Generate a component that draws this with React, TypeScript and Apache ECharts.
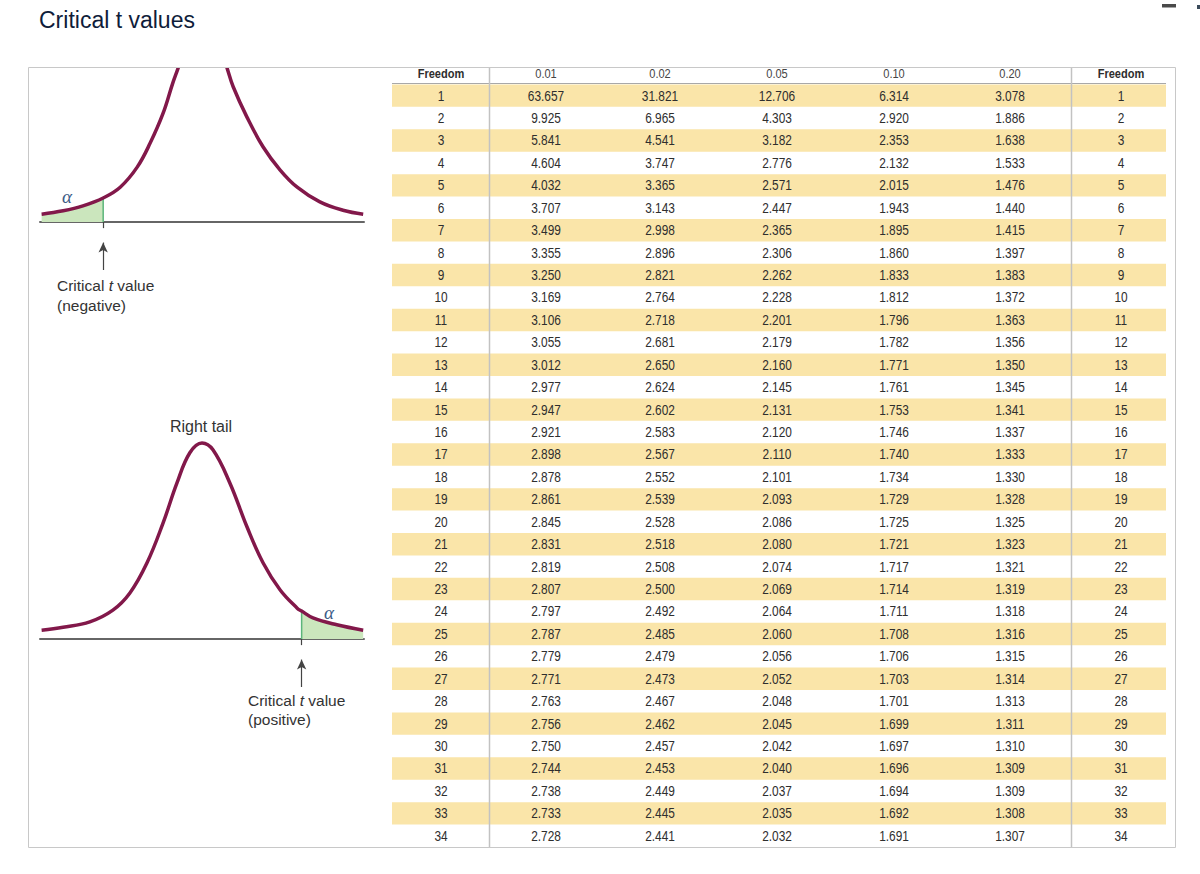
import React, { useEffect, useRef } from 'react';
import * as echarts from 'echarts';

// ---------------- DATA ----------------
const headers = ['Freedom', '0.01', '0.02', '0.05', '0.10', '0.20', 'Freedom'];
const dof = [1, 2, 3, 4, 5, 6, 7, 8, 9, 10, 11, 12, 13, 14, 15, 16, 17, 18, 19, 20, 21, 22, 23, 24, 25, 26, 27, 28, 29, 30, 31, 32, 33, 34];
const t001 = [63.657, 9.925, 5.841, 4.604, 4.032, 3.707, 3.499, 3.355, 3.250, 3.169, 3.106, 3.055, 3.012, 2.977, 2.947, 2.921, 2.898, 2.878, 2.861, 2.845, 2.831, 2.819, 2.807, 2.797, 2.787, 2.779, 2.771, 2.763, 2.756, 2.750, 2.744, 2.738, 2.733, 2.728];
const t002 = [31.821, 6.965, 4.541, 3.747, 3.365, 3.143, 2.998, 2.896, 2.821, 2.764, 2.718, 2.681, 2.650, 2.624, 2.602, 2.583, 2.567, 2.552, 2.539, 2.528, 2.518, 2.508, 2.500, 2.492, 2.485, 2.479, 2.473, 2.467, 2.462, 2.457, 2.453, 2.449, 2.445, 2.441];
const t005 = [12.706, 4.303, 3.182, 2.776, 2.571, 2.447, 2.365, 2.306, 2.262, 2.228, 2.201, 2.179, 2.160, 2.145, 2.131, 2.120, 2.110, 2.101, 2.093, 2.086, 2.080, 2.074, 2.069, 2.064, 2.060, 2.056, 2.052, 2.048, 2.045, 2.042, 2.040, 2.037, 2.035, 2.032];
const t010 = [6.314, 2.920, 2.353, 2.132, 2.015, 1.943, 1.895, 1.860, 1.833, 1.812, 1.796, 1.782, 1.771, 1.761, 1.753, 1.746, 1.740, 1.734, 1.729, 1.725, 1.721, 1.717, 1.714, 1.711, 1.708, 1.706, 1.703, 1.701, 1.699, 1.697, 1.696, 1.694, 1.692, 1.691];
const t020 = [3.078, 1.886, 1.638, 1.533, 1.476, 1.440, 1.415, 1.397, 1.383, 1.372, 1.363, 1.356, 1.350, 1.345, 1.341, 1.337, 1.333, 1.330, 1.328, 1.325, 1.323, 1.321, 1.319, 1.318, 1.316, 1.315, 1.314, 1.313, 1.311, 1.310, 1.309, 1.309, 1.308, 1.307];

// Curves: [t, density]
const leftTailCurve: [number, number][] = [
  [-3.96, 0.016], [-3.43, 0.023], [-2.94, 0.033], [-2.44, 0.049], [-2.02, 0.071], [-1.60, 0.112],
  [-1.28, 0.161], [-0.96, 0.222], [-0.72, 0.284], [-0.59, 0.314], [-0.42, 0.356], [0.0, 0.43],
  [0.45, 0.357], [0.62, 0.314], [0.77, 0.276], [1.11, 0.214], [1.51, 0.153], [1.93, 0.106],
  [2.35, 0.071], [2.91, 0.041], [3.48, 0.024], [3.98, 0.016],
];
const leftCrit = -2.44;
const rightTailCurve: [number, number][] = [
  [-3.96, 0.018], [-3.43, 0.024], [-2.77, 0.035], [-2.20, 0.059], [-1.78, 0.094], [-1.36, 0.155],
  [-0.96, 0.237], [-0.62, 0.318], [-0.30, 0.380], [0.0, 0.40], [0.27, 0.386], [0.69, 0.318],
  [1.11, 0.229], [1.51, 0.155], [1.93, 0.100], [2.35, 0.063], [2.46, 0.057], [2.74, 0.043],
  [3.33, 0.029], [3.98, 0.018],
];
const rightCrit = 2.46;

// ---------------- LAYOUT ----------------
const FONT = '"Liberation Sans", Arial, Helvetica, sans-serif';
const TABLE = { left: 390, top: 62, width: 777, height: 785 };
const COL_X = [51, 156, 270, 387, 504, 620, 731];
const BAND = [2, 776];
const NARROW = 0.82;
const SCALE = 490;
const CURVE_X = { left: 40, width: 324 };
const BASE_TOP = 222;
const BASE_BOT = 639;
const Y_MIN = -0.12;
const TOP_MAX = (BASE_TOP - 69.75) / SCALE;
const BOT_MAX = 0.44;

const MAROON = '#82184a';
const GREEN_FILL = '#cbe6bd';
const GREEN_LINE = '#5bb57a';
const YELLOW = '#fae5a9';
const TXT = '#2e2e2e';

function critValue(curve: [number, number][], crit: number) {
  const p = curve.find((q) => q[0] === crit);
  return p ? p[1] : 0;
}

export default function App() {
  const ref = useRef<HTMLDivElement>(null);

  useEffect(() => {
    if (!ref.current) return;
    const chart = echarts.init(ref.current, undefined, { renderer: 'svg' });

    const rowCats = ['hdr', ...dof.map(String)];
    const tableData = rowCats.map((_, i) => [0, i]);

    const leftShade = leftTailCurve.filter((p) => p[0] <= leftCrit);
    const rightShade = rightTailCurve.filter((p) => p[0] >= rightCrit);

    const critSeries = (crit: number, curve: [number, number][], axis: number) => ({
      type: 'line',
      xAxisIndex: axis,
      yAxisIndex: axis,
      data: [[crit, 0], [crit, critValue(curve, crit)]],
      symbol: 'none',
      lineStyle: { color: GREEN_LINE, width: 1.5 },
      silent: true,
      z: 4,
      markLine: {
        silent: true,
        animation: false,
        label: { show: false },
        emphasis: { disabled: true },
        lineStyle: { color: '#444', width: 1.2, type: 'solid' },
        symbolSize: [7, 10],
        data: [
          [{ coord: [crit, -0.0125], symbol: 'none' }, { coord: [crit, 0], symbol: 'none' }],
          [{ coord: [crit, -0.098], symbol: 'none' }, { coord: [crit, -0.042], symbol: 'arrow' }],
        ],
      },
    });

    const curveAxisX = (grid: number) => ({
      gridIndex: grid,
      type: 'value',
      min: -4,
      max: 4,
      axisLine: { show: true, onZero: true, lineStyle: { color: '#666', width: 2 } },
      axisTick: { show: false },
      axisLabel: { show: false },
      splitLine: { show: false },
    });

    const option: any = {
      animation: false,
      backgroundColor: '#ffffff',
      grid: [
        { ...TABLE, outerBoundsMode: 'none' },
        {
          left: CURVE_X.left, width: CURVE_X.width,
          top: BASE_TOP - TOP_MAX * SCALE, height: (TOP_MAX - Y_MIN) * SCALE, outerBoundsMode: 'none',
        },
        {
          left: CURVE_X.left, width: CURVE_X.width,
          top: BASE_BOT - BOT_MAX * SCALE, height: (BOT_MAX - Y_MIN) * SCALE, outerBoundsMode: 'none',
        },
      ],
      xAxis: [
        { gridIndex: 0, type: 'value', min: 0, max: TABLE.width, show: false },
        curveAxisX(1),
        curveAxisX(2),
      ],
      yAxis: [
        { gridIndex: 0, type: 'category', data: rowCats, inverse: true, show: false },
        { gridIndex: 1, type: 'value', min: Y_MIN, max: TOP_MAX, show: false },
        { gridIndex: 2, type: 'value', min: Y_MIN, max: BOT_MAX, show: false },
      ],
      series: [
        {
          type: 'custom',
          name: 'table',
          xAxisIndex: 0,
          yAxisIndex: 0,
          silent: true,
          encode: { x: 0, y: 1 },
          data: tableData,
          renderItem: (params: any, api: any) => {
            const row = api.value(1) as number;
            const cy = api.coord([0, row])[1];
            const bandH = (api.size([0, 1]) as number[])[1];
            const children: any[] = [];
            if (row > 0 && dof[row - 1] % 2 === 1) {
              const x0 = api.coord([BAND[0], row])[0];
              const x1 = api.coord([BAND[1], row])[0];
              children.push({
                type: 'rect',
                shape: { x: x0, y: cy - bandH / 2, width: x1 - x0, height: bandH },
                style: { fill: YELLOW },
              });
            }
            const i = row - 1;
            const cells = row === 0
              ? headers
              : [String(dof[i]), t001[i].toFixed(3), t002[i].toFixed(3), t005[i].toFixed(3), t010[i].toFixed(3), t020[i].toFixed(3), String(dof[i])];
            cells.forEach((txt, c) => {
              const cx = api.coord([COL_X[c], row])[0];
              const bold = row === 0 && (c === 0 || c === 6);
              children.push({
                type: 'text',
                x: cx,
                y: cy,
                scaleX: NARROW,
                style: {
                  text: txt,
                  align: 'center',
                  verticalAlign: 'middle',
                  textAlign: 'center',
                  textVerticalAlign: 'middle',
                  fontSize: row === 0 ? 13.5 : 14.5,
                  fontFamily: FONT,
                  fontWeight: bold ? 'bold' : 'normal',
                  fill: row === 0 && !bold ? '#454545' : TXT,
                },
              });
            });
            return { type: 'group', children };
          },
        },
        {
          type: 'line', xAxisIndex: 1, yAxisIndex: 1, data: leftShade, smooth: 0.4, symbol: 'none', silent: true,
          lineStyle: { width: 0, opacity: 0 }, areaStyle: { color: GREEN_FILL, opacity: 1 }, z: 1,
        },
        {
          type: 'line', xAxisIndex: 1, yAxisIndex: 1, data: leftTailCurve, smooth: 0.4, symbol: 'none', silent: true,
          lineStyle: { color: MAROON, width: 3.5 }, z: 5,
        },
        critSeries(leftCrit, leftTailCurve, 1),
        {
          type: 'line', xAxisIndex: 2, yAxisIndex: 2, data: rightShade, smooth: 0.4, symbol: 'none', silent: true,
          lineStyle: { width: 0, opacity: 0 }, areaStyle: { color: GREEN_FILL, opacity: 1 }, z: 1,
        },
        {
          type: 'line', xAxisIndex: 2, yAxisIndex: 2, data: rightTailCurve, smooth: 0.4, symbol: 'none', silent: true,
          lineStyle: { color: MAROON, width: 3.5 }, z: 5,
        },
        critSeries(rightCrit, rightTailCurve, 2),
      ],
      graphic: [
        {
          type: 'text', x: 39, y: 20, silent: true,
          style: { text: 'Critical t values', fontSize: 23, fontFamily: FONT, fill: '#0f1d3a', textVerticalAlign: 'middle', verticalAlign: 'middle' },
        },
        { type: 'rect', silent: true, shape: { x: 1162, y: 4, width: 14, height: 3.5 }, style: { fill: '#4a4a4a' } },
        { type: 'rect', silent: true, shape: { x: 1197, y: 5, width: 3, height: 4 }, style: { fill: '#3a4a5a' } },
        {
          type: 'rect', silent: true, z: 10,
          shape: { x: 28.5, y: 67.5, width: 1147, height: 780 },
          style: { fill: 'none', stroke: '#c8c8c8', lineWidth: 1 },
        },
        {
          type: 'line', silent: true, z: 10,
          shape: { x1: 392, y1: 83.5, x2: 1166, y2: 83.5 },
          style: { stroke: '#a8a8a8', lineWidth: 1 },
        },
        {
          type: 'line', silent: true, z: 10,
          shape: { x1: 489.5, y1: 68, x2: 489.5, y2: 847 },
          style: { stroke: '#c2c2c2', lineWidth: 1.5 },
        },
        {
          type: 'line', silent: true, z: 10,
          shape: { x1: 1071.5, y1: 68, x2: 1071.5, y2: 847 },
          style: { stroke: '#c2c2c2', lineWidth: 1.5 },
        },
        {
          type: 'text', x: 67, y: 196, silent: true,
          style: { text: 'α', fontSize: 19, fontStyle: 'italic', fontFamily: '"Liberation Serif", "DejaVu Serif", serif', fill: '#3d5b86', textAlign: 'center', align: 'center', textVerticalAlign: 'middle', verticalAlign: 'middle' },
        },
        {
          type: 'text', x: 329, y: 612, silent: true,
          style: { text: 'α', fontSize: 19, fontStyle: 'italic', fontFamily: '"Liberation Serif", "DejaVu Serif", serif', fill: '#3d5b86', textAlign: 'center', align: 'center', textVerticalAlign: 'middle', verticalAlign: 'middle' },
        },
        {
          type: 'text', x: 201, y: 426, silent: true,
          style: { text: 'Right tail', fontSize: 16, fontFamily: FONT, fill: '#333', textAlign: 'center', align: 'center', textVerticalAlign: 'middle', verticalAlign: 'middle' },
        },
        {
          type: 'text', x: 57, y: 295.5, silent: true,
          style: {
            text: '{r|Critical }{i|t}{r| value}\n{r|(negative)}',
            textVerticalAlign: 'middle', verticalAlign: 'middle',
            rich: {
              r: { fontSize: 15.5, fontFamily: FONT, fill: '#333', lineHeight: 19.5 },
              i: { fontSize: 15.5, fontFamily: FONT, fontStyle: 'italic', fill: '#333', lineHeight: 19.5 },
            },
          },
        },
        {
          type: 'text', x: 248, y: 710, silent: true,
          style: {
            text: '{r|Critical }{i|t}{r| value}\n{r|(positive)}',
            textVerticalAlign: 'middle', verticalAlign: 'middle',
            rich: {
              r: { fontSize: 15.5, fontFamily: FONT, fill: '#333', lineHeight: 19.5 },
              i: { fontSize: 15.5, fontFamily: FONT, fontStyle: 'italic', fill: '#333', lineHeight: 19.5 },
            },
          },
        },
      ],
    };

    chart.setOption(option);
    return () => chart.dispose();
  }, []);

  return (
    <div
      ref={ref}
      style={{ position: 'fixed', left: 0, top: 0, width: 1200, height: 874, background: '#fff' }}
    />
  );
}
